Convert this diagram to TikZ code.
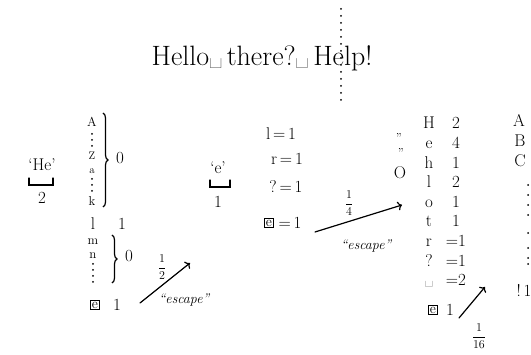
\documentclass[tikz,border=0pt]{standalone}
\usetikzlibrary{decorations.pathreplacing,arrows.meta}

\tikzset{
  big/.style={font=\fontsize{28}{32}\selectfont, inner sep=0pt},
  sym/.style={font=\fontsize{17}{19}\selectfont, inner sep=0pt},
  row/.style={sym, text height=11pt, text depth=1pt},
  small/.style={font=\fontsize{13}{15}\selectfont, inner sep=0pt},
  tiny/.style={font=\fontsize{11}{13}\selectfont, inner sep=0pt},
  boxed/.style={draw, line width=1pt, inner sep=1.5pt, font=\fontsize{14}{16}\selectfont},
  prob/.style={font=\fontsize{12}{14}\selectfont, inner sep=0pt},
  quip/.style={font=\fontsize{14}{16}\selectfont\itshape, inner sep=0pt},
  hand/.style={line width=1.2pt, line cap=round},
  brc/.style={decorate, decoration={brace, amplitude=5pt}, line width=1.2pt}
}

\begin{document}
\begin{tikzpicture}[x=1pt,y=-1pt]
\useasboundingbox (0,0) rectangle (531,355);

% message
\node[big, anchor=base] (msg) at (262,66) {Hello\textvisiblespace\,there?\textvisiblespace\,Help!};
\foreach \y in {9,16,...,102}
{
    \fill (341,\y) circle (1pt);
}

% context 'He'
\node[sym] (he) at (42,165) {`He'};
\draw[hand] (29,178) -- (29,185) -- (53,185) -- (53,178);
\node[sym] (henum) at (42,198) {2};

% letters after 'He'
\node[small] (cA) at (92,122) {A};
\node[tiny] (cZ) at (92,156) {Z};
\node[tiny] (ca) at (92,171) {a};
\node[small] (ck) at (92,201) {k};
\foreach \y in {134,140,146}
{
    \fill (92,\y) circle (1pt);
}
\foreach \y in {179,185,191}
{
    \fill (92,\y) circle (1pt);
}
\draw[brc] (103,113) -- (103,207);
\node[sym] (zero1) at (120,158) {0};
\node[sym] (cl) at (93,224) {l};
\node[sym] (cl1) at (122,224) {1};
\node[small] (cm) at (93,242) {m};
\node[small] (cn) at (93,256) {n};
\foreach \y in {264,270,276,282}
{
    \fill (93,\y) circle (1pt);
}
\draw[brc] (112,235) -- (112,283);
\node[sym] (zero2) at (129,256) {0};
\node[boxed] (esc1) at (95,305) {e};
\node[sym] (esc1n) at (117,305) {1};

% first escape
\coordinate (a1s) at (140,303);
\coordinate (a1e) at (190,263);
\draw[hand, ->] (a1s) -- (a1e);
\node[prob] (p1) at (162,267) {$\displaystyle\frac{1}{2}$};
\node[quip] (s1) at (184,300) {``escape''};

% context 'e'
\node[sym] (ee) at (218,168) {`e'};
\draw[hand] (210,180) -- (210,187) -- (230,187) -- (230,180);
\node[sym] (eenum) at (218,202) {1};

% letters after 'e'
\node[sym] (rl) at (281,134) {l\,=\,1};
\node[sym] (rr) at (287,159) {r\,=\,1};
\node[sym] (rq) at (286,187) {?\,=\,1};
\node[boxed] (esc2) at (269,223) {e};
\node[sym] (esc2n) at (290,223) {=\,1};

% second escape
\coordinate (a2s) at (315,232);
\coordinate (a2e) at (402,205);
\draw[hand, ->] (a2s) -- (a2e);
\node[prob] (p2) at (349,203) {$\displaystyle\frac{1}{4}$};
\node[quip] (s2) at (366,246) {``escape''};

% empty context
\node[small] (d1) at (399,138) {''};
\node[small] (d2) at (401,153) {''};
\node[sym] (ctx0) at (400,173) {O};

% counts
\foreach \c/\v [count=\i] in {H/2,e/4,h/1,l/2,o/1,t/1,r/=1,?/=1,\textvisiblespace/=2}
{
    \node[row] (k\i) at (429,{124+(\i-1)*19.6}) {\c};
    \node[row] (v\i) at (456,{124+(\i-1)*19.6}) {\v};
}
\node[boxed] (esc3) at (433,310) {e};
\node[sym] (esc3n) at (450,310) {1};

% third escape
\coordinate (a3s) at (459,318);
\coordinate (a3e) at (485,287);
\draw[hand, ->] (a3s) -- (a3e);
\node[prob] (p3) at (479,336) {$\displaystyle\frac{1}{16}$};

% order -1
\node[sym] (oA) at (519,120) {A};
\node[sym] (oB) at (520,141) {B};
\node[sym] (oC) at (520,161) {C};
\foreach \y in {185,195,205,215,233,248,258,264}
{
    \fill (528,\y) circle (1pt);
}
\node[sym] (oEx) at (524,290) {!\,1};

\end{tikzpicture}
\end{document}
